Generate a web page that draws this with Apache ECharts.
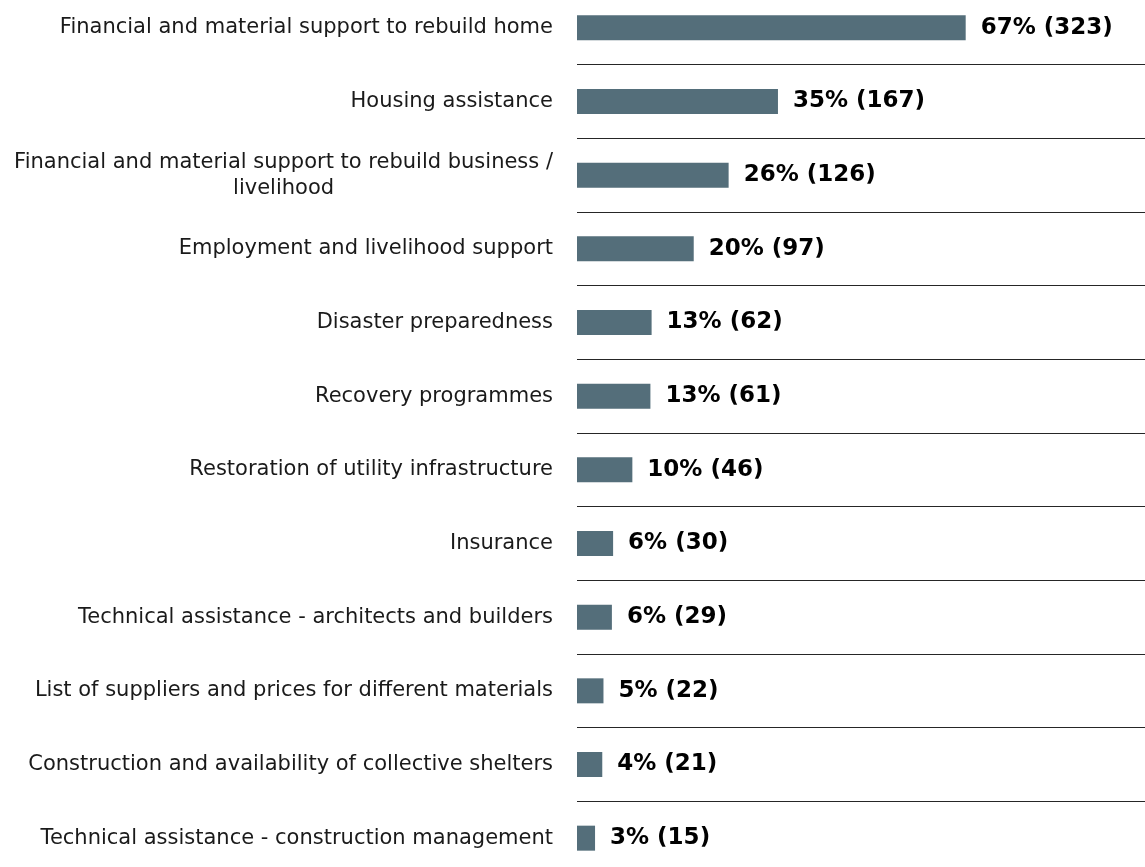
<!DOCTYPE html>
<html>
<head>
<meta charset="utf-8">
<title>Support needed</title>
<script src="https://cdn.jsdelivr.net/npm/echarts@6/dist/echarts.min.js"></script>
<style>
  html, body { margin: 0; padding: 0; background: #ffffff; }
  #chart { width: 1145px; height: 867px; }
</style>
</head>
<body>
<div id="chart"></div>
<script>
// Support types, top to bottom
const categories = [
  'Financial and material support to rebuild home',
  'Housing assistance',
  'Financial and material support to rebuild business /\nlivelihood',
  'Employment and livelihood support',
  'Disaster preparedness',
  'Recovery programmes',
  'Restoration of utility infrastructure',
  'Insurance',
  'Technical assistance - architects and builders',
  'List of suppliers and prices for different materials',
  'Construction and availability of collective shelters',
  'Technical assistance - construction management'
];
// Number of respondents per support type
const counts = [323, 167, 126, 97, 62, 61, 46, 30, 29, 22, 21, 15];
// Share of respondents (%)
const percents = [67, 35, 26, 20, 13, 13, 10, 6, 6, 5, 4, 3];

const chart = echarts.init(document.getElementById('chart'), null, { renderer: 'canvas' });

const BAR_COLOR = '#546e7a';

chart.setOption({
  animation: false,
  backgroundColor: '#ffffff',
  // the outer band edges sit just outside the canvas so only inner separators show
  grid: { left: 577, right: 0, top: -9, bottom: -8, outerBoundsMode: 'none' },
  xAxis: {
    type: 'value',
    min: 0,
    max: 472,
    show: false
  },
  yAxis: {
    type: 'category',
    inverse: true,
    data: categories,
    axisLine: { show: false },
    axisTick: { show: false },
    splitLine: { show: true, lineStyle: { color: '#262626', width: 1 } },
    axisLabel: {
      margin: 0,
      color: '#1a1a1a',
      fontFamily: 'DejaVu Sans',
      fontSize: 21,
      formatter: function (value) {
        if (value.indexOf('\n') >= 0) {
          return value.split('\n').map(function (line) { return '{w|' + line + '}'; }).join('\n');
        }
        return '{s|' + value + '}';
      },
      rich: {
        s: { fontFamily: 'DejaVu Sans', fontSize: 21, color: '#1a1a1a', padding: [0, 24, 0, 0] },
        w: { fontFamily: 'DejaVu Sans', fontSize: 21, color: '#1a1a1a', align: 'center', lineHeight: 26, padding: [0, 24, 0, 0] }
      }
    }
  },
  series: [{
    type: 'bar',
    data: counts,
    barWidth: 25,
    itemStyle: { color: BAR_COLOR },
    label: {
      show: true,
      position: 'right',
      distance: 15,
      color: '#000000',
      fontFamily: 'DejaVu Sans',
      fontWeight: 'bold',
      fontSize: 23,
      formatter: function (p) {
        return percents[p.dataIndex] + '% (' + counts[p.dataIndex] + ')';
      }
    }
  }]
});
</script>
</body>
</html>
